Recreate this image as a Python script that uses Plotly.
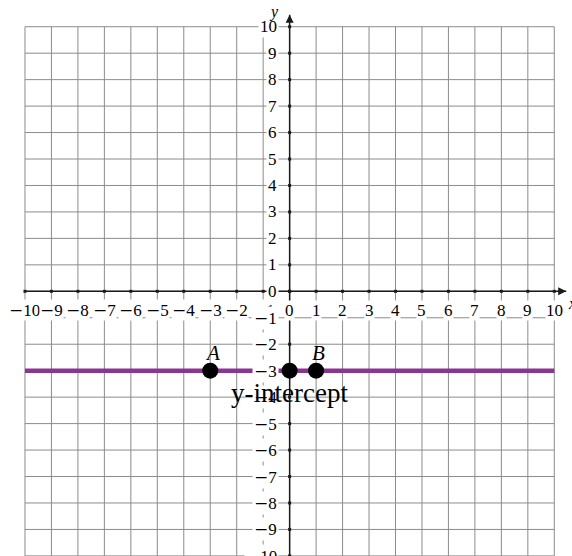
import plotly.graph_objects as go

# ---- data ----
x_ticks = list(range(-10, 11))
y_ticks = list(range(-10, 11))
line_x = [-10, 10]
line_y = [-3, -3]
point_x = [-3, 0, 1]
point_y = [-3, -3, -3]
point_names = ["A", "", "B"]
annot_text = "y-intercept"
annot_x = 0
annot_y = -3
axis_end = 10.45

FONT = "Liberation Serif"
GRID = "#8c8c8c"
PURPLE = "#8b3592"
AXIS = "#1a1a1a"

def lab(v):
    if v < 0:
        return "<span style='font-family:DejaVu Serif'>\u2212</span>" + str(-v)
    return str(v)

fig = go.Figure()

# grid
gx, gy = [], []
for v in x_ticks:
    gx += [v, v, None]
    gy += [y_ticks[0], y_ticks[-1], None]
for v in y_ticks:
    gx += [x_ticks[0], x_ticks[-1], None]
    gy += [v, v, None]
fig.add_trace(go.Scatter(x=gx, y=gy, mode="lines", line=dict(color=GRID, width=1),
                         hoverinfo="skip", showlegend=False))

# axes
fig.add_trace(go.Scatter(x=[x_ticks[0], axis_end], y=[0, 0], mode="lines",
                         line=dict(color=AXIS, width=1.5), hoverinfo="skip", showlegend=False))
fig.add_trace(go.Scatter(x=[0, 0], y=[y_ticks[0], axis_end], mode="lines",
                         line=dict(color=AXIS, width=1.5), hoverinfo="skip", showlegend=False))
fig.add_trace(go.Scatter(x=[axis_end], y=[0], mode="markers",
                         marker=dict(symbol="arrow-right", size=8, color=AXIS),
                         hoverinfo="skip", showlegend=False))
fig.add_trace(go.Scatter(x=[0], y=[axis_end], mode="markers",
                         marker=dict(symbol="arrow-up", size=8, color=AXIS),
                         hoverinfo="skip", showlegend=False))
# tick dots
fig.add_trace(go.Scatter(x=x_ticks, y=[0] * len(x_ticks), mode="markers",
                         marker=dict(symbol="square", size=3, color=AXIS),
                         hoverinfo="skip", showlegend=False))
fig.add_trace(go.Scatter(x=[0] * len(y_ticks), y=y_ticks, mode="markers",
                         marker=dict(symbol="square", size=3, color=AXIS),
                         hoverinfo="skip", showlegend=False))

# purple line
fig.add_trace(go.Scatter(x=line_x, y=line_y, mode="lines",
                         line=dict(color=PURPLE, width=4.5), hoverinfo="skip", showlegend=False))
# points
fig.add_trace(go.Scatter(x=point_x, y=point_y, mode="markers",
                         marker=dict(color="black", size=16), hoverinfo="skip", showlegend=False))

annotations = []
for v in x_ticks:
    annotations.append(dict(x=v, y=0, text=lab(v), showarrow=False, xanchor="center",
                            yanchor="middle", yshift=-19, bgcolor="white", borderpad=0,
                            font=dict(family=FONT, size=17, color="black")))
for v in y_ticks:
    annotations.append(dict(x=0, y=v, text=lab(v), showarrow=False, xanchor="right",
                            yanchor="middle", xshift=-11, bgcolor="white", borderpad=1,
                            font=dict(family=FONT, size=17, color="black")))
for px, py, name in zip(point_x, point_y, point_names):
    if name:
        annotations.append(dict(x=px, y=py, text="<i>" + name + "</i>", showarrow=False,
                                xanchor="center", yanchor="middle", yshift=18, xshift=2,
                                font=dict(family=FONT, size=21, color="black")))
annotations.append(dict(x=annot_x, y=annot_y, text=annot_text, showarrow=False,
                        xanchor="center", yanchor="middle", yshift=-22,
                        font=dict(family=FONT, size=27, color="black")))
annotations.append(dict(x=0, y=axis_end, text="<i>y</i>", showarrow=False,
                        xanchor="center", yanchor="middle", xshift=-16, yshift=3,
                        font=dict(family=FONT, size=16, color="black")))
annotations.append(dict(x=axis_end, y=0, text="<i>x</i>", showarrow=False,
                        xanchor="left", yanchor="middle", xshift=0, yshift=-12,
                        font=dict(family=FONT, size=16, color="black")))

fig.update_layout(
    width=572, height=556,
    margin=dict(l=0, r=0, t=0, b=0),
    paper_bgcolor="white", plot_bgcolor="white",
    xaxis=dict(range=[-10.944, 10.669], visible=False, fixedrange=True),
    yaxis=dict(range=[-10.004, 11.01], visible=False, fixedrange=True),
    annotations=annotations,
    showlegend=False,
)

fig.write_html("out.html", config={"displayModeBar": False},
               post_script="document.body.style.margin='0';document.body.style.overflow='hidden';")
